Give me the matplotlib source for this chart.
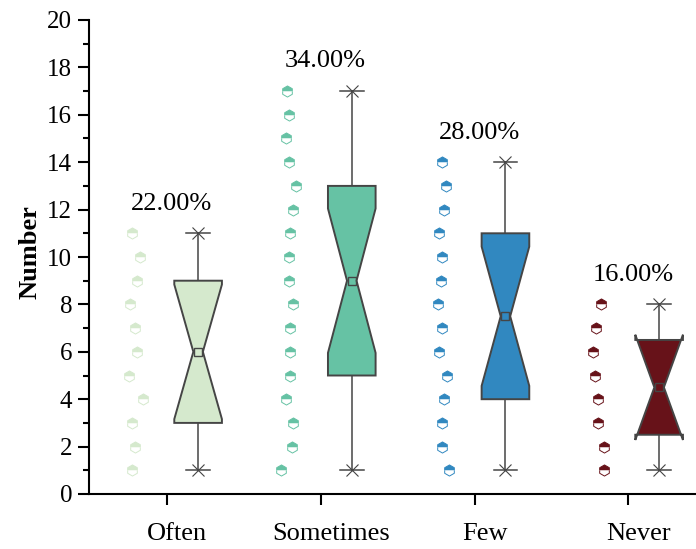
import numpy as np
import matplotlib
matplotlib.use('Agg')
import matplotlib.pyplot as plt
import matplotlib.transforms as mtransforms
from matplotlib.ticker import MultipleLocator

plt.rcParams['font.family'] = 'Liberation Serif'

categories = ['Often', 'Sometimes', 'Few', 'Never']
colors = ['#d5e9cd', '#66c2a4', '#3188c0', '#671219']

# answers per group
often = [1, 2, 3, 4, 5, 6, 7, 8, 9, 10, 11]
sometimes = [1, 2, 3, 4, 5, 6, 7, 8, 9, 10, 11, 12, 13, 14, 15, 16, 17]
few = [1, 2, 3, 4, 5, 6, 7, 8, 9, 10, 11, 12, 13, 14]
never = [1, 2, 3, 4, 5, 6, 7, 8]
groups = [often, sometimes, few, never]

# box edges as drawn in the original
q1s = [3, 5, 4, 2.5]
q3s = [9, 13, 11, 6.5]

# horizontal scatter of the dots (data units, left of each tick)
jit_often = [-0.23, -0.21, -0.23, -0.16, -0.25, -0.20, -0.21, -0.24, -0.20, -0.18, -0.23]
jit_sometimes = [-0.26, -0.19, -0.18, -0.23, -0.20, -0.20, -0.20, -0.18, -0.21,
                 -0.21, -0.20, -0.18, -0.16, -0.21, -0.23, -0.21, -0.22]
jit_few = [-0.17, -0.21, -0.21, -0.20, -0.18, -0.23, -0.21, -0.24, -0.22, -0.21,
           -0.23, -0.20, -0.19, -0.21]
jit_never = [-0.16, -0.16, -0.20, -0.20, -0.22, -0.23, -0.21, -0.18]
jitters = [jit_often, jit_sometimes, jit_few, jit_never]

edge = '#454545'
box_w = 0.31
box_off = 0.2
notch_frac = 0.2

fig = plt.figure(figsize=(6.96, 5.49), dpi=100)
ax = fig.add_axes([89 / 696, 55 / 549, 607 / 696, 474 / 549])

total = sum(len(g) for g in groups)

for i, (vals, c) in enumerate(zip(groups, colors)):
    pos = i + 1
    vals = np.array(vals, dtype=float)
    n = len(vals)
    med = np.median(vals)
    mean = vals.mean()
    q1, q3 = q1s[i], q3s[i]
    ci = 1.57 * (q3 - q1) / np.sqrt(n)
    lo, hi = med - ci, med + ci

    # dots
    ax.plot(pos + np.array(jitters[i]), vals, linestyle='none', marker='h',
            markersize=8, fillstyle='top', markerfacecolor=c,
            markerfacecoloralt='white', markeredgecolor=c, markeredgewidth=0.7,
            zorder=4)

    # notched box
    x = pos + box_off
    L, R = x - box_w / 2, x + box_w / 2
    nl, nr = x - box_w * notch_frac / 2, x + box_w * notch_frac / 2
    xs = [L, R, R, nr, R, R, L, L, nl, L]
    ys = [q1, q1, lo, med, hi, q3, q3, hi, med, lo]
    ax.fill(xs, ys, facecolor=c, edgecolor=edge, linewidth=1.4, zorder=3)

    # whiskers and caps
    ax.plot([x, x], [q3, vals.max()], color=edge, linewidth=1.1, zorder=2)
    ax.plot([x, x], [q1, vals.min()], color=edge, linewidth=1.1, zorder=2)
    for v in (vals.min(), vals.max()):
        ax.plot([x - box_w / 4, x + box_w / 4], [v, v], color=edge, linewidth=1.1, zorder=2)
        ax.plot(x, v, marker='x', markersize=9, color=edge, markeredgewidth=0.8, zorder=2)

    # mean
    ax.plot(x, mean, marker='s', markersize=6, markerfacecolor='none',
            markeredgecolor=edge, markeredgewidth=1.0, zorder=5)

    ax.text(pos + 0.03, vals.max() + 1.25, f'{n / total * 100:.2f}%',
            ha='center', va='center', fontsize=19)

ax.set_xlim(0.49, 4.44)
ax.set_ylim(0, 20)
ax.set_xticks([1, 2, 3, 4])
ax.set_xticklabels(categories, fontsize=19)
ax.yaxis.set_major_locator(MultipleLocator(2))
ax.yaxis.set_minor_locator(MultipleLocator(1))
ax.tick_params(axis='y', labelsize=18)
ax.tick_params(which='major', direction='out', length=8, width=1.5, pad=4)
ax.tick_params(axis='x', pad=13)
ax.tick_params(which='minor', direction='out', length=4, width=1.5)
for s in ['top', 'right']:
    ax.spines[s].set_visible(False)
for s in ['left', 'bottom']:
    ax.spines[s].set_linewidth(1.5)

shift = mtransforms.ScaledTranslation(0.1, 0, fig.dpi_scale_trans)
for lab in ax.get_xticklabels():
    lab.set_transform(lab.get_transform() + shift)

fig.text(30 / 696, 1 - 252 / 549, 'Number', rotation=90, ha='center', va='center',
         fontsize=19, fontweight='bold')

fig.savefig('out.png', dpi=100)
